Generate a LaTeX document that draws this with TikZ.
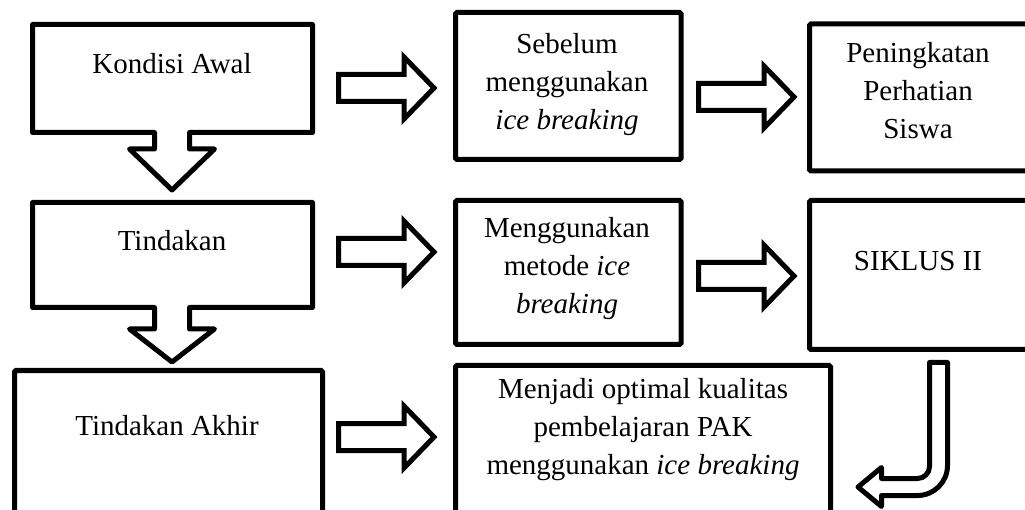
\documentclass[tikz,border=0pt]{standalone}
\usepackage{fontspec}
\setmainfont{Liberation Serif}
\begin{document}
\begin{tikzpicture}[x=1pt,y=-1pt,
  blk/.style={draw=black,line width=5pt,fill=white},
  boxline/.style={blk,rounded corners=1.5pt},
  lbl/.style={inner sep=0pt,align=center,font=\fontsize{29}{38}\selectfont},
  rblock/.pic={\draw[blk,miter limit=10] (0,-13.5) -- (65.5,-13.5) -- (65.5,-31) -- (95.5,0) -- (65.5,31) -- (65.5,13.5) -- (0,13.5) -- cycle;}
]
\useasboundingbox (0,0) rectangle (1025,510);
\clip (0,0) rectangle (1025,510);
% left column callouts
\draw[blk,line join=round] (32.5,24.5) -- (312.5,24.5) -- (312.5,132.5) -- (189.5,132.5) -- (189.5,149) -- (214.5,149) -- (172,190) -- (129.5,149) -- (154.5,149) -- (154.5,132.5) -- (32.5,132.5) -- cycle;
\draw[blk,line join=round] (32.5,202.5) -- (312.5,202.5) -- (312.5,307.5) -- (189.5,307.5) -- (189.5,329) -- (214.5,329) -- (172,362) -- (129.5,329) -- (154.5,329) -- (154.5,307.5) -- (32.5,307.5) -- cycle;
\draw[boxline] (14.5,370.5) rectangle (322.5,530);
% middle column
\draw[boxline] (455.5,12.5) rectangle (681,159.5);
\draw[boxline] (455.5,200.5) rectangle (681,344.5);
\draw[boxline] (455.5,365.5) rectangle (830.5,530);
% right column
\draw[boxline] (809.5,24) rectangle (1040,171);
\draw[boxline] (809.5,200.5) rectangle (1040,349.5);
% block arrows
\pic at (338.5,88) {rblock};
\pic at (698.5,97) {rblock};
\pic at (338.5,252) {rblock};
\pic at (698.5,276) {rblock};
\pic at (338.5,437) {rblock};
% J arrow
\draw[blk,line join=round] (929.5,362.5) -- (947.5,362.5) -- (947.5,465.5) arc[start angle=0,end angle=90,radius=30] -- (881.5,495.5) -- (881.5,506.5) -- (858,487) -- (881.5,467.5) -- (881.5,478.5) -- (917.5,478.5) arc[start angle=90,end angle=0,radius=12] -- cycle;
% texts
\node[lbl] (kondisi) at (172,64) {Kondisi Awal};
\node[lbl] (tindakan) at (172,241) {Tindakan};
\node[lbl] (akhir) at (167,426) {Tindakan Akhir};
\node[lbl] (sebelum) at (567,85) {Sebelum\\menggunakan\\\textit{ice breaking}};
\node[lbl] (peningkatan) at (918,91) {Peningkatan\\Perhatian\\Siswa};
\node[lbl] (metode) at (567,269) {Menggunakan\\metode \textit{ice}\\\textit{breaking}};
\node[lbl] (siklus) at (918,261) {SIKLUS II};
\node[lbl] (optimal) at (643,430) {Menjadi optimal kualitas\\pembelajaran PAK\\menggunakan \textit{ice breaking}};
\end{tikzpicture}
\end{document}
